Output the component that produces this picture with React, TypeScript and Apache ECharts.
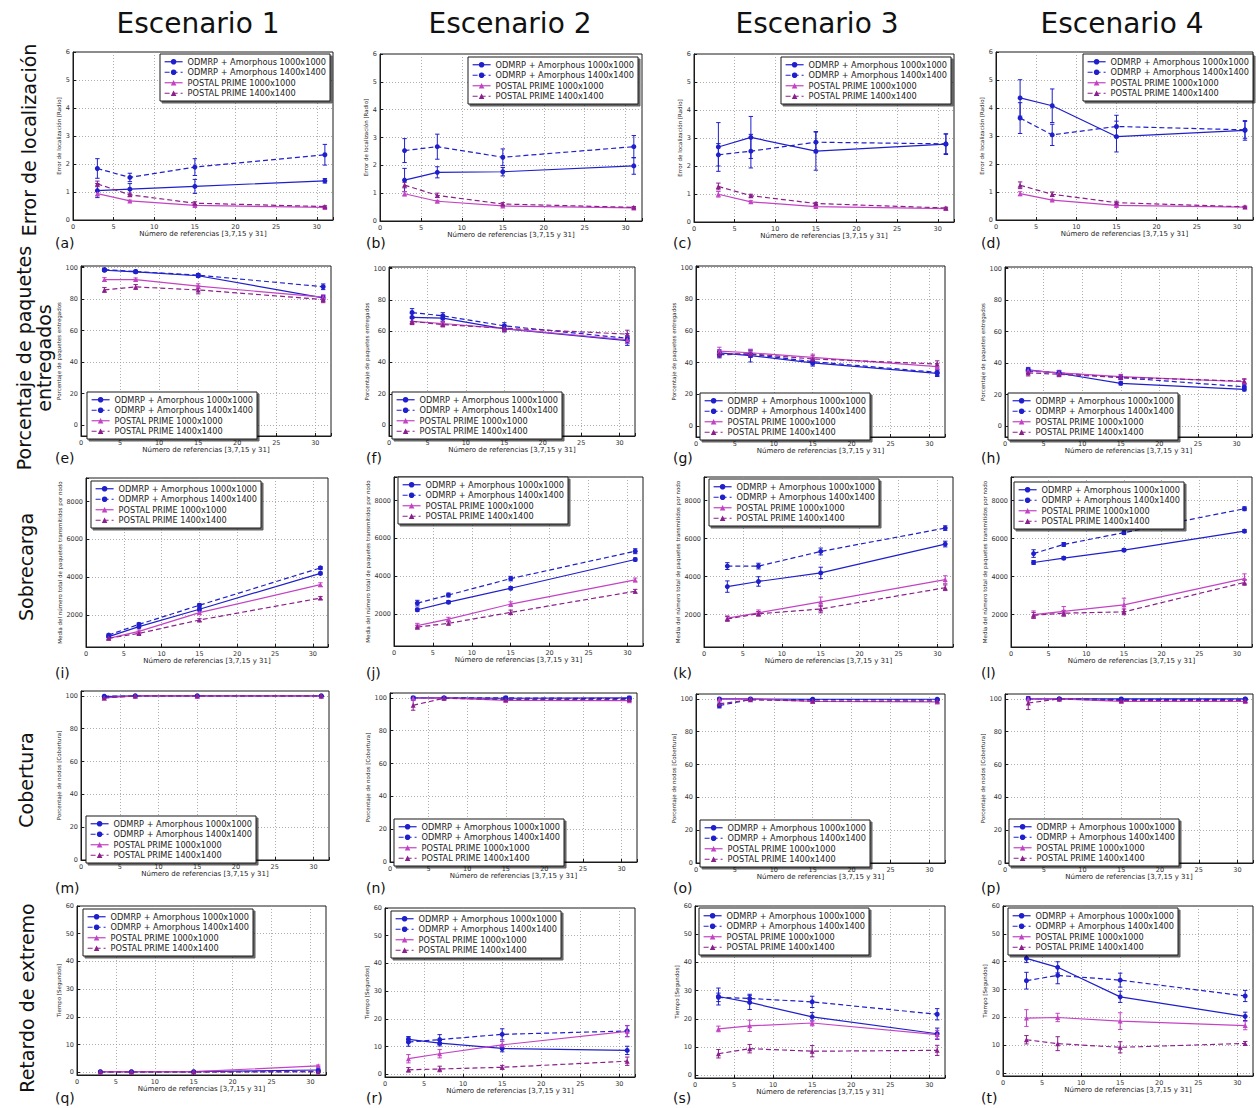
import React, { useEffect, useRef } from 'react';
import * as echarts from 'echarts';

// ---------------- data ----------------
const refs = [3, 7, 15, 31];
const seriesNames = [
  'ODMRP + Amorphous 1000x1000',
  'ODMRP + Amorphous 1400x1400',
  'POSTAL PRIME 1000x1000',
  'POSTAL PRIME 1400x1400',
];
const scenarioTitles = ['Escenario 1', 'Escenario 2', 'Escenario 3', 'Escenario 4'];
const rowTitles = [
  'Error de localización',
  'Porcentaje de paquetes\nentregados',
  'Sobrecarga',
  'Cobertura',
  'Retardo de extremo',
];
const panelLetters = ['(a)', '(b)', '(c)', '(d)', '(e)', '(f)', '(g)', '(h)', '(i)', '(j)', '(k)', '(l)', '(m)', '(n)', '(o)', '(p)', '(q)', '(r)', '(s)', '(t)'];
const xAxisName = 'Número de referencias [3,7,15 y 31]';
const yAxisNames = [
  'Error de localización [Radio]',
  'Porcentaje de paquetes entregados',
  'Media del número total de paquetes transmitidos por nodo',
  'Porcentaje de nodos [Cobertura]',
  'Tiempo [Segundos]',
];
const xTickLabels = [0, 5, 10, 15, 20, 25, 30];
const yTickLabelsRow1 = [0, 1, 2, 3, 4, 5, 6];
const yTickLabelsRow2 = [0, 20, 40, 60, 80, 100];
const yTickLabelsRow3 = [2000, 4000, 6000, 8000];
const yTickLabelsRow4 = [0, 20, 40, 60, 80, 100];
const yTickLabelsRow5 = [0, 10, 20, 30, 40, 50, 60];

// values per panel: [ODMRP 1000, ODMRP 1400, POSTAL 1000, POSTAL 1400]
const valsA = [[1.05, 1.10, 1.20, 1.40], [1.84, 1.52, 1.89, 2.33], [0.94, 0.68, 0.52, 0.45], [1.29, 0.90, 0.60, 0.48]];
const errsA = [[0.25, 0.2, 0.25, 0.08], [0.35, 0.15, 0.3, 0.37], [0.08, 0.03, 0.03, 0.02], [0.1, 0.06, 0.05, 0.03]];
const valsB = [[1.47, 1.75, 1.77, 1.98], [2.53, 2.67, 2.29, 2.67], [0.98, 0.71, 0.54, 0.47], [1.29, 0.92, 0.61, 0.49]];
const errsB = [[0.42, 0.2, 0.15, 0.3], [0.43, 0.45, 0.3, 0.4], [0.08, 0.03, 0.03, 0.02], [0.1, 0.08, 0.05, 0.03]];
const valsC = [[2.68, 3.02, 2.53, 2.78], [2.40, 2.53, 2.85, 2.79], [0.99, 0.72, 0.55, 0.48], [1.27, 0.94, 0.66, 0.50]];
const errsC = [[0.87, 0.75, 0.68, 0.37], [0.4, 0.6, 0.38, 0.35], [0.1, 0.04, 0.03, 0.03], [0.12, 0.05, 0.04, 0.03]];
const valsD = [[4.36, 4.08, 2.98, 3.20], [3.64, 3.04, 3.34, 3.22], [0.94, 0.71, 0.52, 0.46], [1.24, 0.92, 0.62, 0.47]];
const errsD = [[0.65, 0.6, 0.55, 0.35], [0.55, 0.38, 0.4, 0.3], [0.07, 0.03, 0.03, 0.02], [0.12, 0.08, 0.05, 0.03]];

const valsE = [[98.3, 97.3, 94.8, 80.8], [98.7, 97.5, 95.2, 87.8], [92.4, 92.4, 88.2, 81.2], [85.8, 87.7, 85.8, 79.7]];
const errsE = [[0.8, 0.8, 1, 1.5], [0.8, 0.8, 1, 1.8], [1.2, 1, 1.5, 1.5], [1.5, 1.5, 2.5, 2]];
const valsF = [[68.8, 68.3, 61.5, 53.9], [71.9, 69.8, 63.4, 55.4], [66.2, 64.9, 61.7, 54.5], [66.2, 64.2, 61.9, 58.1]];
const errsF = [[2.5, 2, 2, 3], [2.5, 2, 2, 3], [2, 1.5, 2, 2.5], [2, 1.5, 2, 2.5]];
const valsG = [[46.1, 44.4, 39.8, 33.2], [45.0, 45.3, 40.6, 33.8], [47.2, 46.2, 43.3, 37.4], [45.5, 45.5, 42.3, 39.1]];
const errsG = [[2, 4, 2, 2], [2, 2, 2, 2], [2.5, 2, 2, 2], [2, 2, 2, 2]];
const valsH = [[35.7, 33.5, 27.1, 23.3], [34.9, 33.8, 30.7, 24.9], [35.3, 33.8, 31.3, 28.1], [33.8, 32.8, 30.9, 28.5]];
const errsH = [[1.5, 1.5, 1, 1], [1.5, 1.5, 1, 1.5], [1.5, 1.5, 1.5, 1.5], [2, 1.5, 1.5, 1.5]];

const valsI = [[850, 1380, 2300, 4200], [930, 1500, 2510, 4490], [760, 1130, 2120, 3600], [760, 1020, 1730, 2890]];
const errsI = [[60, 80, 80, 70], [60, 80, 80, 70], [50, 70, 80, 100], [50, 60, 70, 80]];
const valsJ = [[2220, 2620, 3360, 4880], [2570, 3000, 3870, 5320], [1380, 1720, 2520, 3800], [1300, 1500, 2080, 3200]];
const errsJ = [[80, 80, 80, 80], [150, 100, 120, 130], [120, 100, 120, 100], [100, 80, 120, 100]];
const valsK = [[3480, 3750, 4200, 5720], [4560, 4560, 5330, 6560], [1820, 2100, 2680, 3850], [1780, 2050, 2300, 3420]];
const errsK = [[300, 250, 300, 150], [180, 150, 180, 120], [120, 150, 250, 200], [120, 120, 200, 150]];
const valsL = [[4750, 4980, 5400, 6400], [5220, 5700, 6320, 7580], [2000, 2180, 2520, 3900], [1970, 2080, 2150, 3700]];
const errsL = [[100, 80, 80, 80], [200, 100, 100, 100], [200, 250, 350, 250], [150, 150, 150, 150]];

const valsM = [[99.6, 100, 100, 100], [99.8, 100, 100, 100], [98.8, 100, 100, 100], [98.8, 100, 100, 100]];
const errsM = [[0.3, 0.1, 0.1, 0.1], [0.2, 0.1, 0.1, 0.1], [0.3, 0.1, 0.1, 0.1], [0.3, 0.1, 0.1, 0.1]];
const valsN = [[100, 100, 99.8, 100], [99.8, 100, 100, 99.6], [99.8, 100, 98.5, 98.3], [95.5, 99.8, 99.0, 99.0]];
const errsN = [[1, 0.5, 1, 1], [1, 0.5, 1, 1], [0.5, 0.8, 1, 0.8], [3, 0.8, 1, 0.8]];
const valsO = [[100, 100, 99.8, 99.8], [96, 99.6, 99.6, 99.4], [99.8, 100, 98.5, 98.2], [97, 99.5, 98.7, 98.7]];
const errsO = [[0.5, 0.5, 0.5, 0.5], [1.5, 0.5, 0.5, 0.5], [0.5, 0.5, 1, 0.8], [2, 0.5, 1, 0.8]];
const valsP = [[100, 100, 100, 100], [100, 100, 99.7, 99.8], [100, 100, 98.5, 98.5], [97.5, 100, 99, 99]];
const errsP = [[0.5, 0.5, 0.5, 0.5], [0.5, 0.5, 0.5, 0.5], [0.5, 0.5, 1, 0.8], [4, 0.5, 0.8, 0.8]];

const valsQ = [[0.2, 0.2, 0.2, 0.8], [0.1, 0.1, 0.1, 0.3], [0.2, 0.2, 0.2, 2.3], [0.1, 0.1, 0.1, 0.1]];
const errsQ = [[0.1, 0.1, 0.1, 0.3], [0.1, 0.1, 0.1, 0.2], [0.1, 0.1, 0.1, 0.3], [0.1, 0.1, 0.1, 0.1]];
const valsR = [[12.6, 11.2, 9.3, 8.6], [11.6, 12.5, 14.4, 15.6], [5.6, 7.4, 10.6, 15.5], [1.6, 1.9, 2.5, 4.7]];
const errsR = [[1, 1, 1.2, 1.5], [1.5, 1.8, 2, 2], [1.5, 1.5, 1.2, 2], [0.8, 1, 0.7, 1.5]];
const valsS = [[27.9, 25.8, 20.7, 14.7], [27.6, 27.2, 26.0, 21.6], [16.4, 17.5, 18.5, 14.4], [7.6, 9.4, 8.5, 8.8]];
const errsS = [[3, 2.5, 1.5, 2], [1.5, 1.5, 2, 2], [1, 2, 1, 1.5], [1.5, 1.5, 2, 1.8]];
const valsT = [[41.2, 38.0, 27.4, 20.4], [33.2, 35.1, 33.4, 27.7], [19.8, 20.0, 18.7, 17.1], [12.0, 10.6, 9.3, 10.7]];
const errsT = [[1.5, 2, 2, 1.5], [3, 3, 2.5, 2], [3, 1.5, 3, 1.5], [1.5, 2.5, 2, 0.7]];

const panelVals = [valsA, valsB, valsC, valsD, valsE, valsF, valsG, valsH, valsI, valsJ, valsK, valsL, valsM, valsN, valsO, valsP, valsQ, valsR, valsS, valsT];
const panelErrs = [errsA, errsB, errsC, errsD, errsE, errsF, errsG, errsH, errsI, errsJ, errsK, errsL, errsM, errsN, errsO, errsP, errsQ, errsR, errsS, errsT];

// ---------------- layout & style ----------------
const rowYRange = [[0, 6], [-7, 101], [300, 9250], [0, 103], [-1, 60]];
const rowYInterval = [1, 20, 2000, 20, 10];
const rowYTicks = [yTickLabelsRow1, yTickLabelsRow2, yTickLabelsRow3, yTickLabelsRow4, yTickLabelsRow5];

// [left, top, right, bottom] of each plot area
const gridBoxes = [
  [73, 52, 333, 220], [380, 54, 642, 221], [694, 54, 954, 222], [996, 52, 1253, 220],
  [81, 266, 331, 436], [389, 267, 635, 436], [696, 266, 945, 437], [1005, 267, 1252, 437],
  [86, 478, 328, 647], [394, 477, 643, 646], [704, 477, 953, 647], [1011, 477, 1252, 647],
  [81, 691, 329, 860], [390, 693, 637, 862], [696, 694, 945, 863], [1005, 694, 1253, 863],
  [77, 906, 326, 1075], [385, 908, 635, 1077], [695, 906, 945, 1078], [1003, 906, 1253, 1076],
];
const legendPos = [
  [160, 54], [468, 57], [781, 57], [1083, 54],
  [87, 392], [392, 392], [700, 393], [1008, 393],
  [91, 481], [398, 477], [709, 479], [1014, 482],
  [86, 816], [394, 819], [700, 820], [1009, 819],
  [83, 909], [391, 911], [699, 908], [1008, 908],
];
const yNameGaps = [10, 8, 9, 10, 16, 18, 18, 18, 22, 20, 23, 21, 17, 16, 18, 17, 13, 13, 13, 14];
const xNameGaps = [8, 9, 7.5, 8, 6];
const labelColX = [55, 366, 673, 981];
const labelRowY = [243, 458, 673, 888, 1098];
const titleX = [198, 510, 817, 1122];
const rowTitlePos = [[29, 140], [34, 358], [26, 567], [26, 780], [27, 998]];

const colors = ['#1f1fcc', '#1f1fcc', '#c443c4', '#8b1f8b'];
const dashes: any[] = ['solid', [5, 3], 'solid', [5, 3]];
const symbols = ['circle', 'circle', 'triangle', 'triangle'];
const FONT = 'DejaVu Sans';

function buildOption() {
  const grid: any[] = [];
  const xAxis: any[] = [];
  const yAxis: any[] = [];
  const series: any[] = [];
  const legend: any[] = [];

  for (let p = 0; p < 20; p++) {
    const row = Math.floor(p / 4);
    const [L, T, R, B] = gridBoxes[p];
    grid.push({
      left: L, top: T, width: R - L, height: B - T,
      show: true, borderColor: '#1a1a1a', borderWidth: 1, backgroundColor: '#fff',
    });
    xAxis.push({
      type: 'value', gridIndex: p, min: 0, max: 32, minInterval: 5, maxInterval: 5,
      name: xAxisName, nameLocation: 'middle', nameGap: xNameGaps[row],
      nameTextStyle: { fontSize: 7, color: '#222', fontFamily: FONT },
      axisLine: { show: true, onZero: false, lineStyle: { color: '#1a1a1a', width: 1 } },
      axisTick: { show: true, inside: true, length: 3, lineStyle: { color: '#1a1a1a' } },
      axisLabel: {
        fontSize: 6.5, color: '#333', margin: 3, fontFamily: FONT,
        formatter: (v: number) => (xTickLabels.includes(v) ? String(v) : ''),
      },
      splitLine: { show: true, showMinLine: false, showMaxLine: false, lineStyle: { type: [1, 2], color: '#9a9a9a', width: 0.8 } },
    });
    const ticks = rowYTicks[row];
    yAxis.push({
      type: 'value', gridIndex: p, min: rowYRange[row][0], max: rowYRange[row][1],
      minInterval: rowYInterval[row], maxInterval: rowYInterval[row],
      name: yAxisNames[row], nameLocation: 'middle', nameGap: yNameGaps[p],
      nameTextStyle: { fontSize: 5.5, color: '#222', fontFamily: FONT },
      axisLine: { show: true, onZero: false, lineStyle: { color: '#1a1a1a', width: 1 } },
      axisTick: { show: true, inside: true, length: 3, lineStyle: { color: '#1a1a1a' } },
      axisLabel: {
        fontSize: 6.5, color: '#333', margin: 3, fontFamily: FONT,
        formatter: (v: number) => (ticks.includes(v) ? String(v) : ''),
      },
      splitLine: { show: true, showMinLine: false, showMaxLine: false, lineStyle: { type: [1, 2], color: '#9a9a9a', width: 0.8 } },
    });

    const vals = panelVals[p];
    const errs = panelErrs[p];
    for (let s = 0; s < 4; s++) {
      const color = colors[s];
      series.push({
        type: 'line', name: seriesNames[s], xAxisIndex: p, yAxisIndex: p,
        data: refs.map((x, i) => [x, vals[s][i]]),
        symbol: symbols[s], symbolSize: 5, showSymbol: true,
        lineStyle: { color, width: 1.2, type: dashes[s] },
        itemStyle: { color },
        z: 3,
      });
      series.push({
        type: 'custom', xAxisIndex: p, yAxisIndex: p,
        data: refs.map((x, i) => [x, vals[s][i] - errs[s][i], vals[s][i] + errs[s][i]]),
        encode: { x: 0, y: [1, 2] },
        z: 2,
        renderItem: (params: any, api: any) => {
          const x = api.value(0);
          const p1 = api.coord([x, api.value(1)]);
          const p2 = api.coord([x, api.value(2)]);
          const c = 2.2;
          const st = { stroke: color, lineWidth: 1 };
          return {
            type: 'group',
            children: [
              { type: 'line', shape: { x1: p1[0], y1: p1[1], x2: p2[0], y2: p2[1] }, style: st },
              { type: 'line', shape: { x1: p1[0] - c, y1: p1[1], x2: p1[0] + c, y2: p1[1] }, style: st },
              { type: 'line', shape: { x1: p2[0] - c, y1: p2[1], x2: p2[0] + c, y2: p2[1] }, style: st },
            ],
          };
        },
      });
    }

    legend.push({
      orient: 'vertical', left: legendPos[p][0], top: legendPos[p][1],
      data: seriesNames, selectedMode: false,
      itemWidth: 18, itemHeight: 7, itemGap: 1,
      padding: [3, 4, 3, 4],
      backgroundColor: '#fff', borderColor: '#1a1a1a', borderWidth: 1, borderRadius: 0,
      shadowColor: 'rgba(0,0,0,0.6)', shadowOffsetX: 2, shadowOffsetY: 2, shadowBlur: 0,
      lineStyle: { width: 1.2 },
      textStyle: { fontSize: 8.2, fontFamily: FONT, color: '#222', lineHeight: 9.5 },
    });
  }

  const graphic: any[] = [];
  scenarioTitles.forEach((t, i) => {
    graphic.push({
      type: 'text', x: titleX[i], y: 23,
      style: { text: t, fontSize: 28, fontFamily: FONT, fill: '#111', textAlign: 'center', textVerticalAlign: 'middle' },
    });
  });
  rowTitles.forEach((t, i) => {
    graphic.push({
      type: 'text', x: rowTitlePos[i][0], y: rowTitlePos[i][1], rotation: Math.PI / 2,
      style: { text: t, fontSize: 19, fontFamily: FONT, fill: '#111', textAlign: 'center', textVerticalAlign: 'middle', lineHeight: 20 },
    });
  });
  panelLetters.forEach((t, p) => {
    graphic.push({
      type: 'text', x: labelColX[p % 4], y: labelRowY[Math.floor(p / 4)],
      style: { text: t, fontSize: 14, fontFamily: FONT, fill: '#111', textAlign: 'left', textVerticalAlign: 'middle' },
    });
  });

  return {
    animation: false,
    backgroundColor: '#fff',
    textStyle: { fontFamily: FONT },
    grid, xAxis, yAxis, series, legend, graphic,
  };
}

export default function App() {
  const ref = useRef<HTMLDivElement>(null);
  useEffect(() => {
    if (!ref.current) return;
    const chart = echarts.init(ref.current, undefined, { renderer: 'svg' });
    chart.setOption(buildOption() as any);
    return () => chart.dispose();
  }, []);
  return <div ref={ref} style={{ position: 'absolute', left: 0, top: 0, width: 1259, height: 1108, background: '#fff' }} />;
}
